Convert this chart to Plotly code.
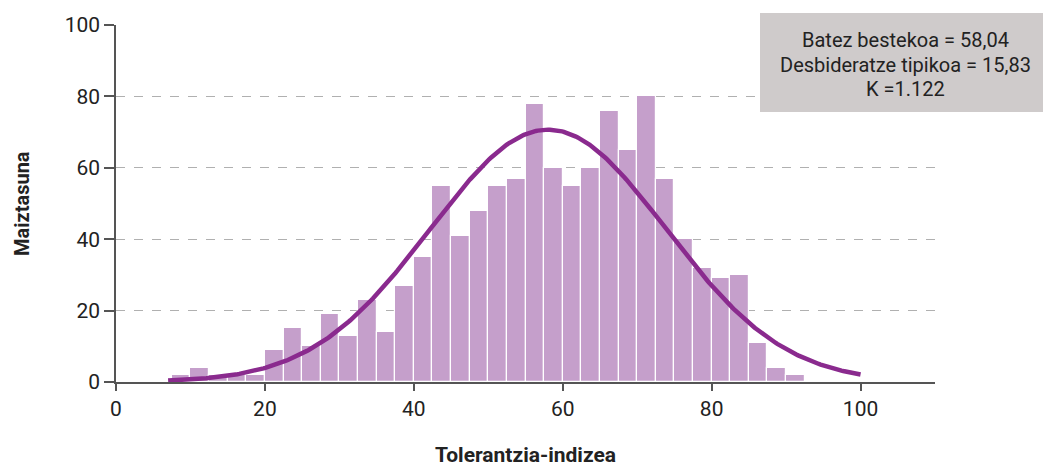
import numpy as np
import plotly.graph_objects as go

# Histogram of the tolerance index (bins 2.5 wide)
BIN_WIDTH = 2.5
bin_starts = [7.5, 10, 12.5, 15, 17.5, 20, 22.5, 25, 27.5, 30, 32.5, 35, 37.5,
              40, 42.5, 45, 47.5, 50, 52.5, 55, 57.5, 60, 62.5, 65, 67.5, 70,
              72.5, 75, 77.5, 80, 82.5, 85, 87.5, 90]
counts = [2, 4, 2, 2, 2, 9, 15, 10, 19, 13, 23, 14, 27,
          35, 55, 41, 48, 55, 57, 78, 60, 55, 60, 76, 65, 80,
          57, 40, 32, 29, 30, 11, 4, 2]

# Summary statistics shown in the box; the normal curve is drawn from them
MEAN = 58.04
SD = 15.83
N = 1122
CURVE_RANGE = (7, 100)

stats_lines = ["Batez bestekoa = 58,04",
               "Desbideratze tipikoa = 15,83",
               "K =1.122"]

x_ticks = [0, 20, 40, 60, 80, 100]
y_ticks = [0, 20, 40, 60, 80, 100]

FONT = "Roboto, Liberation Sans, sans-serif"
BAR_COLOR = "#C59FCB"
CURVE_COLOR = "#8A2A8E"
AXIS_COLOR = "#555555"
TEXT_COLOR = "#222222"

# plot area in pixels: x 116..935, y 25..382
PLOT_L, PLOT_R, PLOT_T, PLOT_B = 116, 935, 25, 382
PW, PH = PLOT_R - PLOT_L, PLOT_B - PLOT_T


def px(x):
    return (x - PLOT_L) / PW


def py(y):
    return (PLOT_B - y) / PH


centers = [s + BIN_WIDTH / 2 for s in bin_starts]

xc = np.linspace(CURVE_RANGE[0], CURVE_RANGE[1], 400)
yc = N * BIN_WIDTH / (SD * np.sqrt(2 * np.pi)) * np.exp(-0.5 * ((xc - MEAN) / SD) ** 2)

fig = go.Figure()
fig.add_trace(go.Bar(
    x=centers, y=counts, width=BIN_WIDTH,
    marker=dict(color=BAR_COLOR, line=dict(color="white", width=1.2)),
    hoverinfo="x+y",
))
fig.add_trace(go.Scatter(
    x=xc, y=yc, mode="lines",
    line=dict(color=CURVE_COLOR, width=4.5),
    hoverinfo="skip",
))

fig.update_layout(
    width=1045, height=470,
    margin=dict(l=PLOT_L, r=1045 - PLOT_R, t=PLOT_T, b=470 - PLOT_B),
    paper_bgcolor="white", plot_bgcolor="white",
    showlegend=False,
    font=dict(family=FONT, size=21, color=TEXT_COLOR),
    bargap=0,
)
fig.update_xaxes(
    range=[0, 110], tickvals=x_ticks, ticktext=[str(v) for v in x_ticks],
    showgrid=False, zeroline=False,
    showline=True, linecolor=AXIS_COLOR, linewidth=1.5,
    ticks="outside", ticklen=7, tickcolor=AXIS_COLOR, tickwidth=1.5,
    tickfont=dict(size=21),
)
fig.update_yaxes(
    range=[0, 100], tickvals=y_ticks, ticktext=[str(v) for v in y_ticks],
    showgrid=True, gridcolor="#B0B0B0", griddash="dash", gridwidth=1,
    zeroline=False,
    showline=True, linecolor=AXIS_COLOR, linewidth=1.5,
    ticks="outside", ticklen=10, tickcolor=AXIS_COLOR, tickwidth=1.5,
    tickfont=dict(size=21),
)

# Statistics box
fig.add_shape(type="rect", xref="paper", yref="paper",
              x0=px(760), x1=px(1043), y0=py(112), y1=py(13),
              fillcolor="#CFCBCB", line=dict(width=0), layer="above")
for line, ypix in zip(stats_lines, [40, 65, 89]):
    fig.add_annotation(
        xref="paper", yref="paper", x=px(905), y=py(ypix),
        text=line, showarrow=False, xanchor="center", yanchor="middle",
        font=dict(family=FONT, size=20, color=TEXT_COLOR),
    )

# Axis titles
fig.add_annotation(
    xref="paper", yref="paper", x=px(525), y=py(455),
    text="<b>Tolerantzia-indizea</b>", showarrow=False,
    xanchor="center", yanchor="middle",
    font=dict(family=FONT, size=21, color=TEXT_COLOR),
)
fig.add_annotation(
    xref="paper", yref="paper", x=px(22), y=py(204),
    text="<b>Maiztasuna</b>", showarrow=False, textangle=-90,
    xanchor="center", yanchor="middle",
    font=dict(family=FONT, size=20, color=TEXT_COLOR),
)

fig.write_html("out.html")
